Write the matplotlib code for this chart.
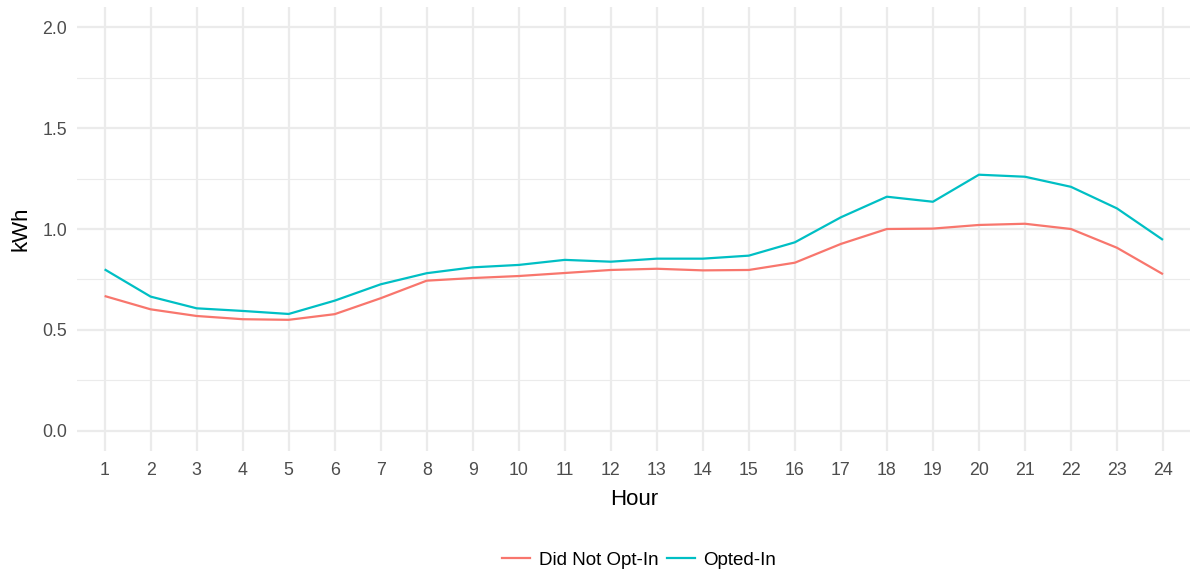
import matplotlib
matplotlib.use("Agg")
import matplotlib.pyplot as plt
from matplotlib.ticker import MultipleLocator
from matplotlib.lines import Line2D

plt.rcParams['font.family'] = ['Liberation Sans', 'DejaVu Sans']

hours = list(range(1, 25))
did_not_opt_in = [0.668, 0.602, 0.569, 0.553, 0.550, 0.578, 0.657, 0.744, 0.757, 0.767,
                  0.782, 0.797, 0.803, 0.795, 0.797, 0.833, 0.926, 1.000, 1.002, 1.020,
                  1.026, 1.000, 0.907, 0.776]
opted_in = [0.800, 0.665, 0.607, 0.594, 0.579, 0.645, 0.726, 0.781, 0.810, 0.822,
            0.847, 0.838, 0.853, 0.853, 0.868, 0.934, 1.058, 1.160, 1.135, 1.269,
            1.259, 1.209, 1.102, 0.946]
series_names = ["Did Not Opt-In", "Opted-In"]
series_colors = ["#F8766D", "#00BFC4"]

W, H = 1190, 571
fig = plt.figure(figsize=(W / 100, H / 100), dpi=100)
ax = fig.add_axes([77 / W, 1 - 451 / H, (1190.6 - 77) / W, (451 - 7) / H])

for vals, name, col in zip([did_not_opt_in, opted_in], series_names, series_colors):
    ax.plot(hours, vals, color=col, lw=1.6, label=name, solid_capstyle='butt', zorder=3)

ax.set_xlim(0.4, 24.6)
ax.set_ylim(-0.1, 2.1)
ax.set_xticks(hours)
ax.set_xticklabels([str(h) for h in hours])
ax.yaxis.set_major_locator(MultipleLocator(0.5))
ax.yaxis.set_minor_locator(MultipleLocator(0.25))
ax.set_yticks([0.0, 0.5, 1.0, 1.5, 2.0])
ax.set_yticklabels(["0.0", "0.5", "1.0", "1.5", "2.0"])

ax.grid(True, which='major', color='#EBEBEB', lw=1.6, zorder=0)
ax.grid(True, which='minor', axis='y', color='#EBEBEB', lw=0.8, zorder=0)
ax.set_axisbelow(True)
for s in ax.spines.values():
    s.set_visible(False)
ax.tick_params(which='both', length=0)
ax.tick_params(axis='both', labelsize=12.8, labelcolor='#4D4D4D')
ax.tick_params(axis='x', pad=8)
ax.tick_params(axis='y', pad=7)

ax.set_xlabel("Hour", fontsize=16, color='black', labelpad=7)
ax.set_ylabel("kWh", fontsize=16, color='black', labelpad=8)

handles = [Line2D([], [], color=c, lw=1.6) for c in series_colors]
fig.legend(handles, series_names, loc='center', bbox_to_anchor=(639 / W, 1 - 560 / H),
           ncol=2, frameon=False, fontsize=13.5, handlelength=1.5,
           columnspacing=0.45, handletextpad=0.45)

fig.savefig("out.png", dpi=100, facecolor='white')
